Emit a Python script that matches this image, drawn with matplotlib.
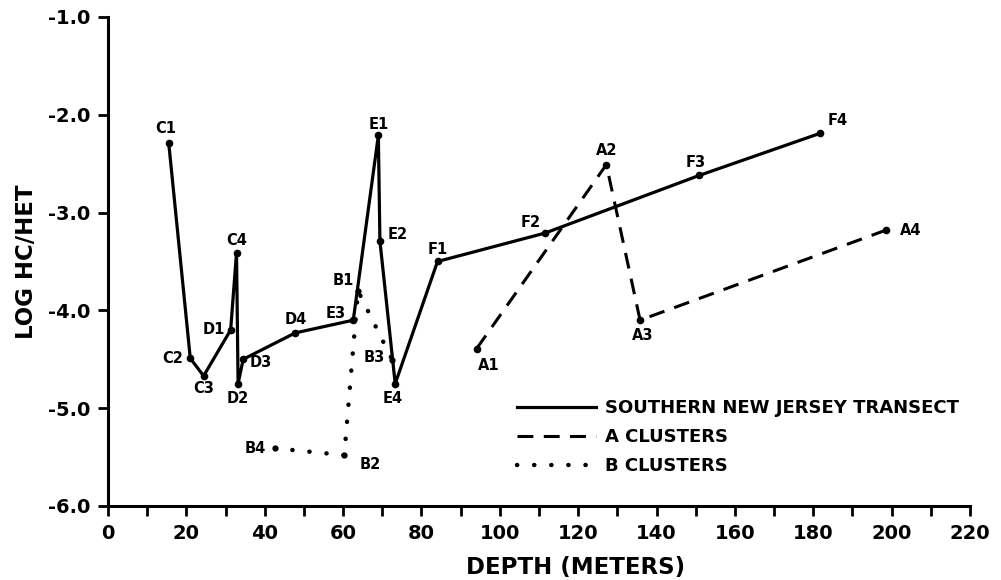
#!/usr/bin/env python3
"""
Log HC/HET against depth for the southern New Jersey transect and clusters
"""
import matplotlib
matplotlib.use('Agg')
import matplotlib.pyplot as plt
from matplotlib.lines import Line2D

# transect stations, in the order the line connects them
transect_names = ['C1', 'C2', 'C3', 'D1', 'C4', 'D2', 'D3', 'D4',
                  'E3', 'E1', 'E2', 'E4', 'F1', 'F2', 'F3', 'F4']
transect_depth = [15.5, 21.0, 24.4, 31.3, 32.8, 33.2, 34.5, 47.8,
                  62.6, 69.0, 69.4, 73.3, 84.1, 111.5, 150.9, 181.7]
transect_loghc = [-2.29, -4.49, -4.67, -4.20, -3.41, -4.75, -4.50, -4.23,
                  -4.10, -2.21, -3.29, -4.75, -3.50, -3.21, -2.62, -2.19]

a_names = ['A1', 'A2', 'A3', 'A4']
a_depth = [94.1, 127.2, 135.8, 198.5]
a_loghc = [-4.39, -2.51, -4.10, -3.18]

b_names = ['B4', 'B2', 'B1', 'B3']
b_depth = [42.7, 60.3, 63.8, 72.6]
b_loghc = [-5.41, -5.48, -3.80, -4.51]

x_ticks = list(range(0, 221, 20))
y_ticks = [-1.0, -2.0, -3.0, -4.0, -5.0, -6.0]

# label offsets in pixels (dx, dy) from each point
label_offsets = {
  'C1': (-3, 15), 'C2': (-18, 0), 'C3': (0, -13), 'D1': (-17, 0),
  'C4': (0, 12), 'D2': (0, -15), 'D3': (18, -3), 'D4': (0, 13),
  'E3': (-18, 7), 'E1': (0, 11), 'E2': (18, 6), 'E4': (-3, -15),
  'F1': (0, 12), 'F2': (-14, 11), 'F3': (-4, 13), 'F4': (18, 13),
  'A1': (12, -17), 'A2': (0, 14), 'A3': (3, -15), 'A4': (25, 0),
  'B1': (-15, 10), 'B2': (26, -9), 'B4': (-20, 0), 'B3': (-18, 3),
}

PX = 0.72  # points per pixel at dpi 100
DASHED = (0, (5.2, 3.4))
DOTTED = (0, (0.05, 3.8))


def main():
  plt.rcParams['font.family'] = ['DejaVu Sans']
  fig = plt.figure(figsize=(10.01, 5.8), dpi=100)
  ax = fig.add_axes([0.1079, 0.1276, 0.8611, 0.8431])

  ax.plot(transect_depth, transect_loghc, color='black', lw=2.3,
          marker='o', ms=4.5, solid_joinstyle='round')
  ax.plot(a_depth, a_loghc, color='black', lw=2.2, linestyle=DASHED,
          marker='o', ms=4.5, dash_capstyle='butt')
  ax.plot(b_depth, b_loghc, color='black', lw=3.2, linestyle=DOTTED,
          marker='o', ms=3.5, dash_capstyle='round')

  for names, xs, ys in [(transect_names, transect_depth, transect_loghc),
                        (a_names, a_depth, a_loghc),
                        (b_names, b_depth, b_loghc)]:
    for name, x, y in zip(names, xs, ys):
      dx, dy = label_offsets[name]
      ax.annotate(name, (x, y), xytext=(dx * PX, dy * PX),
                  textcoords='offset points', ha='center', va='center',
                  fontsize=10.5, fontweight='bold')

  ax.set_xlim(0, 220)
  ax.set_ylim(-6.0, -1.0)
  ax.set_xticks(x_ticks)
  ax.set_xticks(list(range(10, 220, 20)), minor=True)
  ax.set_yticks(y_ticks)
  ax.set_yticklabels(['%.1f' % v for v in y_ticks])
  ax.tick_params(axis='both', which='both', direction='out', width=2,
                 length=7, labelsize=14, pad=6)
  for lab in ax.get_xticklabels() + ax.get_yticklabels():
    lab.set_fontweight('bold')

  for side in ['top', 'right']:
    ax.spines[side].set_visible(False)
  for side in ['left', 'bottom']:
    ax.spines[side].set_linewidth(2.2)

  ax.set_xlabel('DEPTH (METERS)', fontsize=16.5, fontweight='bold')
  ax.set_ylabel('LOG HC/HET', fontsize=16.5, fontweight='bold')
  ax.xaxis.set_label_coords(0.542, -0.102)
  ax.yaxis.set_label_coords(-0.081, 0.5)

  handles = [
    Line2D([], [], color='black', lw=2.3),
    Line2D([], [], color='black', lw=2.2, linestyle=DASHED),
    Line2D([], [], color='black', lw=3.2, linestyle=DOTTED,
           dash_capstyle='round'),
  ]
  labels = ['SOUTHERN NEW JERSEY TRANSECT', 'A CLUSTERS', 'B CLUSTERS']
  ax.legend(handles, labels, loc='upper left', bbox_to_anchor=(0.4745, 0.218),
            frameon=False, handlelength=4.4, handletextpad=0.45,
            labelspacing=0.6, borderaxespad=0, borderpad=0,
            prop={'weight': 'bold', 'size': 13})

  fig.savefig('out.png', dpi=100)


if __name__ == '__main__':
  main()
